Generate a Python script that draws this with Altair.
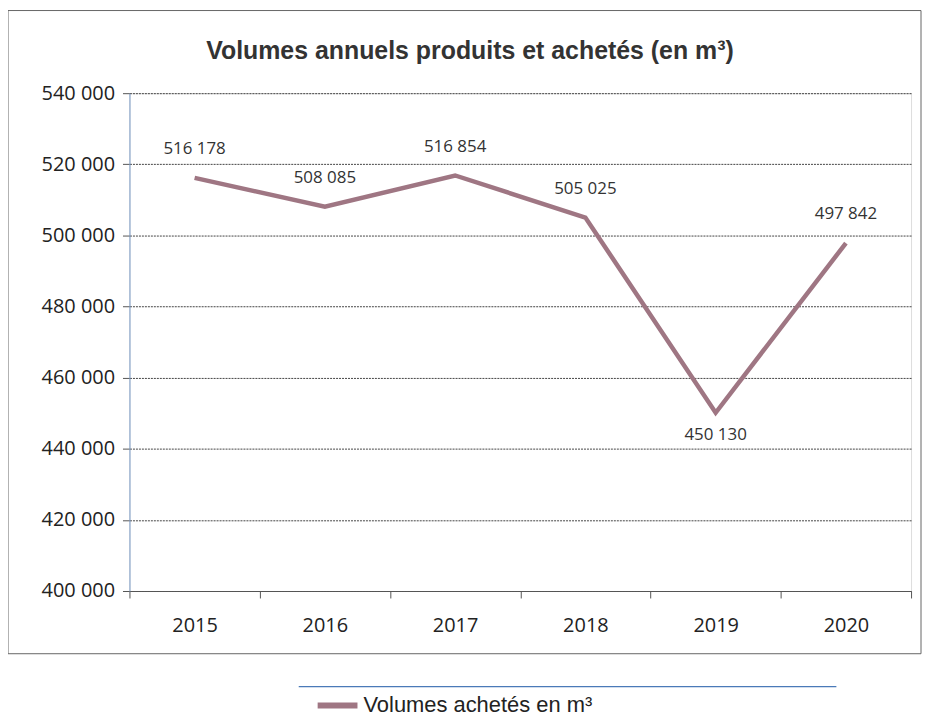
import altair as alt
import pandas as pd

years = ["2015", "2016", "2017", "2018", "2019", "2020"]
volumes = [516178, 508085, 516854, 505025, 450130, 497842]
series_name = "Volumes achetés en m³"
title_text = "Volumes annuels produits et achetés (en m³)"

df = pd.DataFrame({
    "annee": years,
    "volume": volumes,
    "serie": [series_name] * len(years),
})
df["label"] = [f"{v:,}".replace(",", " ") for v in volumes]

LINE_COLOR = "#9f7683"
FONT = "Open Sans"

x_enc = alt.X("annee:N", title=None, bandPosition=0.5,
              scale=alt.Scale(type="band", paddingInner=0, paddingOuter=0),
              axis=alt.Axis(labelAngle=0, labelFont=FONT, labelFontSize=20, labelColor="#222",
                            labelPadding=18, tickBand="extent", tickSize=7, tickColor="#555",
                            domainColor="#555", grid=False))
y_enc = alt.Y("volume:Q", title=None,
              scale=alt.Scale(domain=[400000, 540000], nice=False, zero=False),
              axis=alt.Axis(values=[400000, 420000, 440000, 460000, 480000, 500000, 520000, 540000],
                            labelExpr="replace(format(datum.value, ','), ',', ' ')",
                            labelFont=FONT, labelFontSize=20, labelColor="#222", labelPadding=8,
                            tickSize=7, tickColor="#555", domainColor="#7a9cc8",
                            grid=True, gridColor="#444", gridDash=[2, 1], gridWidth=1))

base = alt.Chart(df)

line = base.mark_line(strokeWidth=4.5, strokeJoin="miter").encode(
    x=x_enc,
    y=y_enc,
    color=alt.Color("serie:N", scale=alt.Scale(range=[LINE_COLOR]),
                    legend=alt.Legend(title=None, orient="none", legendX=186, legendY=592,
                                      symbolType="stroke", symbolStrokeWidth=6, symbolSize=1600,
                                      labelFont="Liberation Sans", labelFontSize=22, labelColor="#222",
                                      labelLimit=400, labelOffset=3)),
)

labels_above = base.transform_filter("datum.volume >= 460000").mark_text(
    font=FONT, fontSize=17, color="#333", dy=-29).encode(
    x=alt.X("annee:N", bandPosition=0.5), y="volume:Q", text="label:N")

labels_below = base.transform_filter("datum.volume < 460000").mark_text(
    font=FONT, fontSize=17, color="#333", dy=22).encode(
    x=alt.X("annee:N", bandPosition=0.5), y="volume:Q", text="label:N")

frame = alt.Chart(pd.DataFrame({"a": [0]})).mark_rect(
    fill=None, stroke="#666", strokeWidth=1).encode(
    x=alt.value(-122), x2=alt.value(795), y=alt.value(-83), y2=alt.value(563))

sep = alt.Chart(pd.DataFrame({"a": [0]})).mark_rule(
    stroke="#4a7ab8", strokeWidth=1.2).encode(
    x=alt.value(170), x2=alt.value(710), y=alt.value(596))

title = alt.Chart(pd.DataFrame({"t": [title_text]})).mark_text(
    font="Liberation Sans", fontSize=25, fontWeight="bold", color="#333",
    align="center", baseline="middle").encode(
    x=alt.value(342), y=alt.value(-42), text="t:N")

chart = alt.layer(frame, sep, title, line, labels_above, labels_below).properties(
    width=785, height=500,
    autosize=alt.AutoSizeParams(type="none"),
    padding={"left": 122, "top": 84, "right": 12, "bottom": 126},
).configure_view(stroke=None).configure(background="white")

chart.save("out.html", embed_options={"renderer": "svg", "actions": False})
